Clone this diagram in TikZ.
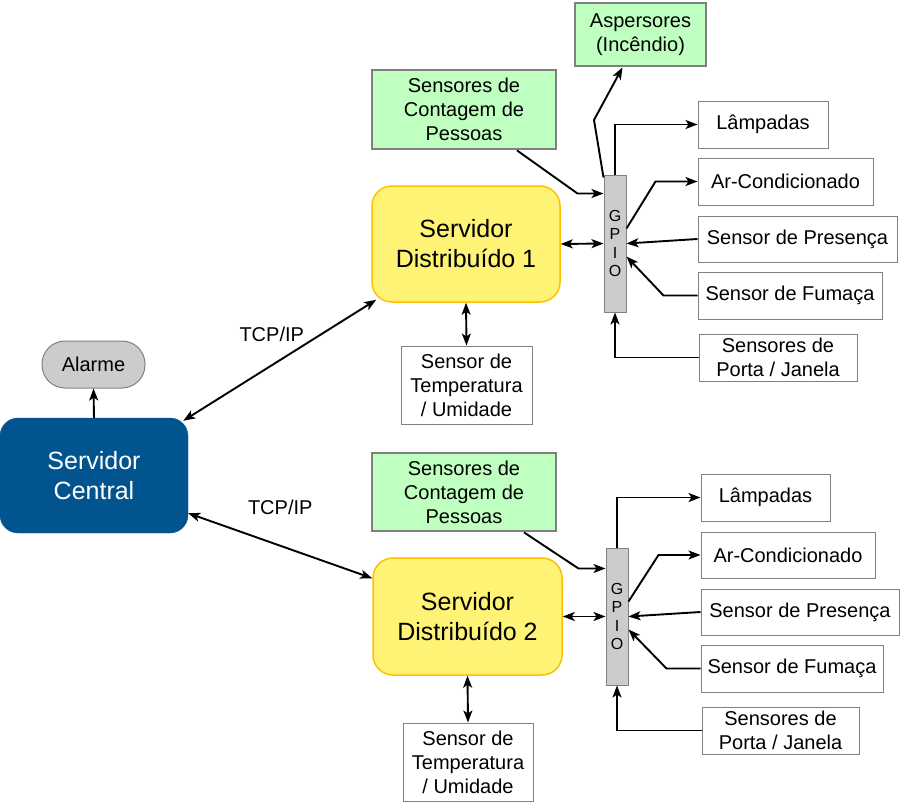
\documentclass[tikz,border=0pt]{standalone}
\usepackage{fontspec}
\setmainfont{Liberation Sans}
\usetikzlibrary{arrows.meta}
\definecolor{edgegray}{HTML}{808080}
\definecolor{sensgreen}{HTML}{BFFFBF}
\definecolor{srvyellow}{HTML}{FFF376}
\definecolor{srvedge}{HTML}{FFC000}
\definecolor{ctrblue}{HTML}{02548F}
\definecolor{gpiogray}{HTML}{CCCCCC}
\tikzset{
    normal/.style={draw=edgegray, inner sep=0pt, align=center, font=\fontsize{20}{24}\selectfont},
    dev/.style={style=normal, line width=1pt}, % white device boxes
    sens/.style={style=normal, fill=sensgreen, line width=2.8pt}, % green sensor boxes
    srv/.style={style=normal, draw=srvedge, fill=srvyellow, line width=1.5pt, rounded corners=20pt,
        minimum width=188pt, minimum height=116pt, font=\fontsize{25}{30}\selectfont},
    ctr/.style={style=normal, draw=ctrblue, fill=ctrblue, text=white, rounded corners=18pt,
        minimum width=188pt, minimum height=115pt, font=\fontsize{25}{30}\selectfont},
    gpio/.style={style=normal, fill=gpiogray, line width=1pt, minimum width=22pt, minimum height=137pt,
        font=\fontsize{16}{18.5}\selectfont},
    tip/.tip={Stealth[length=12pt, width=9pt, inset=3pt]},
    e/.style={draw, line width=1.9pt, -tip},
    be/.style={style=e, tip-tip}, % both ways
    lbl/.style={font=\fontsize{20}{24}\selectfont}
}

\begin{document}
\begin{tikzpicture}[x=1pt, y=-1pt]
    \useasboundingbox (0,0) rectangle (900,803);

    % central part
    \node[ctr] (sc) at (94,475.5) {Servidor\\Central};
    \node[normal, fill=gpiogray, line width=1pt, rounded corners=23pt, minimum width=103pt, minimum height=47pt]
        (al) at (93.5,364.5) {Alarme};

    % first distributed server
    \node[sens, minimum width=131pt, minimum height=63pt] (asp) at (640.5,34.5) {Aspersores\\(Incêndio)};
    \node[sens, minimum width=184pt, minimum height=79pt] (c1) at (464,109.5) {Sensores de\\Contagem de\\Pessoas};
    \node[srv] (s1) at (466,244) {Servidor\\Distribuído 1};
    \node[gpio] (g1) at (615,243.5) {G\\P\\I\\O};
    \node[dev, minimum width=130pt, minimum height=47pt] (l1) at (763,124.5) {Lâmpadas};
    \node[dev, minimum width=175pt, minimum height=47pt] (a1) at (785.5,181.5) {Ar-Condicionado};
    \node[dev, minimum width=199pt, minimum height=46pt] (p1) at (797.5,239) {Sensor de Presença};
    \node[dev, minimum width=184pt, minimum height=47pt] (f1) at (790,295.5) {Sensor de Fumaça};
    \node[dev, minimum width=158pt, minimum height=47pt] (d1) at (778,357.5) {Sensores de\\Porta / Janela};
    \node[dev, minimum width=131pt, minimum height=78pt] (t1) at (466.5,385) {Sensor de\\Temperatura\\/ Umidade};

    % second distributed server
    \node[sens, minimum width=184pt, minimum height=78pt] (c2) at (464,492) {Sensores de\\Contagem de\\Pessoas};
    \node[srv, minimum width=189pt, minimum height=117pt] (s2) at (467.5,616.5) {Servidor\\Distribuído 2};
    \node[gpio] (g2) at (617,616.5) {G\\P\\I\\O};
    \node[dev, minimum width=129pt, minimum height=47pt] (l2) at (765.5,497.5) {Lâmpadas};
    \node[dev, minimum width=174pt, minimum height=46pt] (a2) at (788,555) {Ar-Condicionado};
    \node[dev, minimum width=198pt, minimum height=46pt] (p2) at (800,612) {Sensor de Presença};
    \node[dev, minimum width=182pt, minimum height=47pt] (f2) at (792,668.5) {Sensor de Fumaça};
    \node[dev, minimum width=157pt, minimum height=47pt] (d2) at (780.5,730.5) {Sensores de\\Porta / Janela};
    \node[dev, minimum width=130pt, minimum height=78pt] (t2) at (468,762) {Sensor de\\Temperatura\\/ Umidade};

    % connections
    \draw[e] (sc.north) -- (al.south);
    \draw[be] ([xshift=-5pt, yshift=-3pt]sc.north east) -- ([xshift=5pt, yshift=3pt]s1.south west)
        node[lbl, pos=.5, xshift=-8pt, yshift=26pt] {TCP/IP};
    \draw[be] ([yshift=20pt]sc.south east) -- ([yshift=-21pt]s2.north west)
        node[lbl, pos=.5, yshift=38pt] {TCP/IP};

    \draw[be] (s1.east) -- (g1.west);
    \draw[be] (s1.south) -- (t1.north);
    \draw[e] ([xshift=53pt]c1.south) -- ([xshift=-26pt, yshift=50pt]g1.west) -- ([yshift=50pt]g1.west);
    \draw[e] ([yshift=-3pt]g1.north west) -- (594,120) -- ([xshift=-18pt]asp.south);
    \draw[e] (g1.north) |- (l1.west);
    \draw[e] ([yshift=15pt]g1.east) -- ([xshift=-42pt]a1.west) -- (a1.west);
    \draw[e] (p1.west) -- (g1.east);
    \draw[e] (f1.west) -- ++(-34,0) -- ([yshift=-13pt]g1.east);
    \draw[e] (d1.west) -| (g1.south);

    \draw[be] (s2.east) -- (g2.west);
    \draw[be] (s2.south) -- (t2.north);
    \draw[e] ([xshift=60pt]c2.south) -- ([xshift=-27pt, yshift=48pt]g2.west) -- ([yshift=48pt]g2.west);
    \draw[e] (g2.north) |- (l2.west);
    \draw[e] ([yshift=15pt]g2.east) -- ([xshift=-42pt]a2.west) -- (a2.west);
    \draw[e] (p2.west) -- (g2.east);
    \draw[e] (f2.west) -- ++(-34,0) -- ([yshift=-13pt]g2.east);
    \draw[e] (d2.west) -| (g2.south);
\end{tikzpicture}
\end{document}
